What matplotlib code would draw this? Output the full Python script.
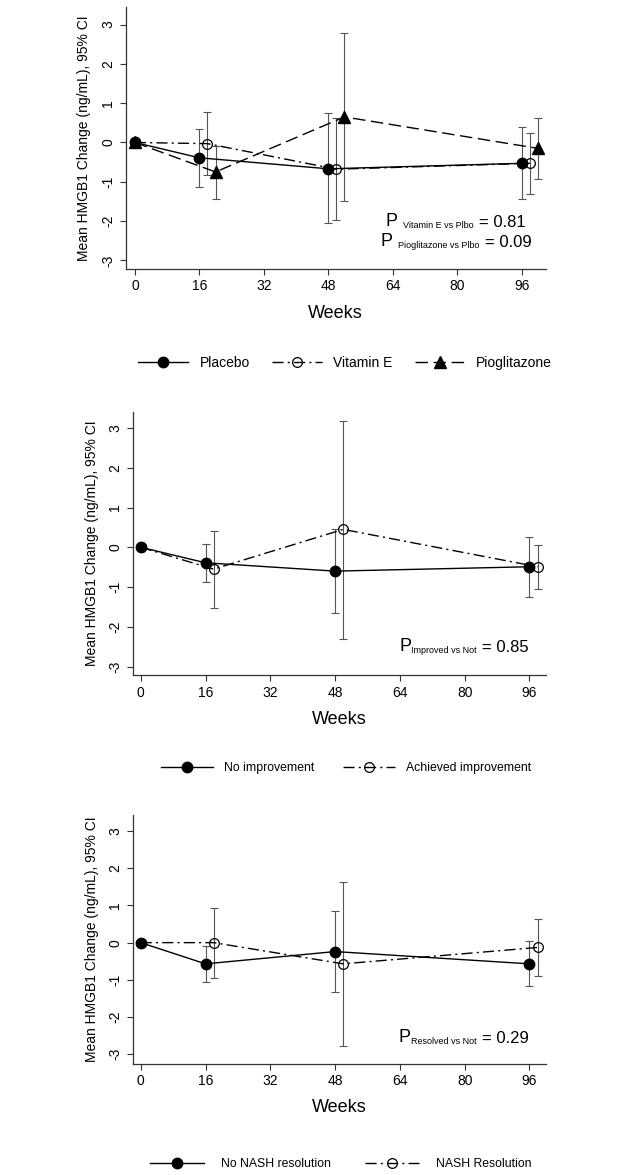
import matplotlib
matplotlib.use("Agg")
import matplotlib.pyplot as plt
from matplotlib.offsetbox import TextArea, HPacker, AnnotationBbox
import numpy as np

plt.rcParams["font.family"] = ["Liberation Sans", "DejaVu Sans"]
plt.rcParams["axes.unicode_minus"] = False

weeks = [0, 16, 48, 96]
x_ticks = [0, 16, 32, 48, 64, 80, 96]
y_ticks = [-3, -2, -1, 0, 1, 2, 3]

# panel 1: treatment arms (mean, lower CI, upper CI)
placebo = [0, -0.39, -0.67, -0.53]
placebo_lo = [0, -1.14, -2.05, -1.44]
placebo_hi = [0, 0.35, 0.74, 0.39]
vite = [0, -0.03, -0.68, -0.53]
vite_lo = [0, -0.83, -1.98, -1.32]
vite_hi = [0, 0.77, 0.63, 0.25]
pio = [0, -0.75, 0.65, -0.15]
pio_lo = [0, -1.43, -1.48, -0.93]
pio_hi = [0, -0.09, 2.78, 0.61]

# panel 2: histologic improvement
noimp = [0, -0.39, -0.60, -0.49]
noimp_lo = [0, -0.88, -1.65, -1.26]
noimp_hi = [0, 0.08, 0.46, 0.26]
imp = [0, -0.55, 0.45, -0.49]
imp_lo = [0, -1.53, -2.31, -1.04]
imp_hi = [0, 0.41, 3.17, 0.06]

# panel 3: NASH resolution
nores = [0, -0.57, -0.24, -0.57]
nores_lo = [0, -1.05, -1.32, -1.16]
nores_hi = [0, -0.10, 0.84, 0.04]
res = [0, 0.0, -0.57, -0.13]
res_lo = [0, -0.94, -2.77, -0.90]
res_hi = [0, 0.94, 1.64, 0.64]

AX_COLOR = "#333333"
ERR_COLOR = "#555555"

STYLES = {
    "solid": dict(linestyle="-", marker="o", mfc="black", mec="black", ms=7.5),
    "dashdot": dict(linestyle=(0, (8, 3, 1.5, 3)), marker="o", mfc="none",
                    mec="black", ms=7, mew=0.9),
    "dashed": dict(linestyle=(0, (9, 4)), marker="^", mfc="black",
                   mec="black", ms=9),
}


def draw_series(ax, mean, lo, hi, shift, style, label):
    w = np.array(weeks, dtype=float)
    x = np.where(w > 0, w + shift, w)
    m = np.array(mean)
    yerr = np.array([m - np.array(lo), np.array(hi) - m])
    ax.errorbar(x[1:], m[1:], yerr=yerr[:, 1:], fmt="none", ecolor=ERR_COLOR,
                elinewidth=0.8, capsize=3, capthick=0.8, zorder=2)
    line, = ax.plot(x, m, color="black", lw=1.0, label=label, zorder=3,
                    **STYLES[style])
    return line


def style_axes(ax, xlim, ylim):
    ax.set_xlim(*xlim)
    ax.set_ylim(*ylim)
    ax.set_xticks(x_ticks)
    ax.set_yticks(y_ticks)
    for s in ["top", "right"]:
        ax.spines[s].set_visible(False)
    for s in ["left", "bottom"]:
        ax.spines[s].set_color(AX_COLOR)
        ax.spines[s].set_linewidth(0.9)
    ax.tick_params(direction="out", length=4.5, width=0.8, color=AX_COLOR,
                   labelsize=10, pad=3)
    ax.tick_params(axis="y", labelrotation=90)
    for lbl in ax.get_yticklabels():
        lbl.set_va("center")
    ax.set_xlabel("Weeks", fontsize=13, labelpad=8)
    ax.set_ylabel("Mean HMGB1 Change (ng/mL), 95% CI", fontsize=10, labelpad=7)


def p_text(ax, x, y, sub, val, sep1):
    parts = [TextArea("P", textprops=dict(size=13)),
             TextArea(sub, textprops=dict(size=6.5)),
             TextArea("= " + val, textprops=dict(size=12))]
    box = HPacker(children=parts[:2], align="bottom", pad=0, sep=sep1)
    box = HPacker(children=[box, parts[2]], align="bottom", pad=0, sep=4)
    ab = AnnotationBbox(box, (x, y), xycoords="axes fraction",
                        box_alignment=(0.5, 0.5), frameon=False)
    ax.add_artist(ab)


fig = plt.figure(figsize=(6.25, 11.75), dpi=100)

# panel 1
ax1 = fig.add_axes([0.201, 0.771, 0.672, 0.2232])
h1 = [draw_series(ax1, placebo, placebo_lo, placebo_hi, 0, "solid", "Placebo"),
      draw_series(ax1, vite, vite_lo, vite_hi, 2, "dashdot", "Vitamin E"),
      draw_series(ax1, pio, pio_lo, pio_hi, 4, "dashed", "Pioglitazone")]
style_axes(ax1, (-2.3, 101.9), (-3.22, 3.45))
p_text(ax1, 0.786, 0.18, "Vitamin E vs Plbo", "0.81", 4)
p_text(ax1, 0.786, 0.104, "Pioglitazone vs Plbo", "0.09", 4)
fig.legend(handles=h1, loc="center", bbox_to_anchor=(345 / 625, 1 - 363 / 1175),
           ncol=3, frameon=False, fontsize=10, handlelength=3.6,
           handletextpad=0.8, columnspacing=1.6, numpoints=1)

# panel 2
ax2 = fig.add_axes([0.2123, 0.4253, 0.6608, 0.2243])
h2 = [draw_series(ax2, noimp, noimp_lo, noimp_hi, 0, "solid", "No improvement"),
      draw_series(ax2, imp, imp_lo, imp_hi, 2, "dashdot", "Achieved improvement")]
style_axes(ax2, (-1.98, 100.0), (-3.22, 3.41))
p_text(ax2, 0.802, 0.108, "Improved vs Not", "0.85", 0)
fig.legend(handles=h2, loc="center", bbox_to_anchor=(346 / 625, 1 - 768 / 1175),
           ncol=2, frameon=False, fontsize=8.8, handlelength=4.3,
           handletextpad=0.9, columnspacing=2.3, numpoints=1)

# panel 3
ax3 = fig.add_axes([0.2123, 0.0945, 0.6608, 0.2119])
h3 = [draw_series(ax3, nores, nores_lo, nores_hi, 0, "solid", "No NASH resolution"),
      draw_series(ax3, res, res_lo, res_hi, 2, "dashdot", "NASH Resolution")]
style_axes(ax3, (-1.98, 100.0), (-3.26, 3.43))
p_text(ax3, 0.802, 0.107, "Resolved vs Not", "0.29", 0)
fig.legend(handles=h3, loc="center", bbox_to_anchor=(341 / 625, 1 - 1164 / 1175),
           ncol=2, frameon=False, fontsize=8.8, handlelength=4.4,
           handletextpad=1.4, columnspacing=2.8, numpoints=1)

fig.savefig("out.png", dpi=100)
